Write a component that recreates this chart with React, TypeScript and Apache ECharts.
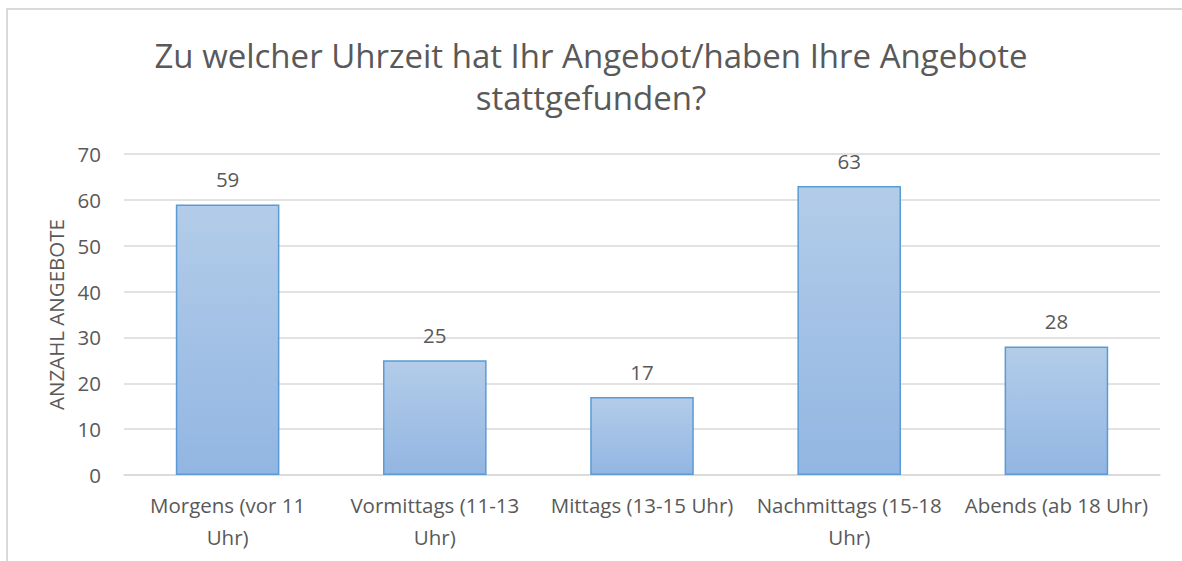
import React, { useEffect, useRef } from "react";
import * as echarts from "echarts";

const titleText = "Zu welcher Uhrzeit hat Ihr Angebot/haben Ihre Angebote\nstattgefunden?";
const categories = [
  "Morgens (vor 11\nUhr)",
  "Vormittags (11-13\nUhr)",
  "Mittags (13-15 Uhr)",
  "Nachmittags (15-18\nUhr)",
  "Abends (ab 18 Uhr)",
];
const values = [59, 25, 17, 63, 28];
const yAxisName = "ANZAHL ANGEBOTE";
const FONT = "Open Sans";

export default function App() {
  const ref = useRef<HTMLDivElement>(null);
  useEffect(() => {
    if (!ref.current) return;
    const chart = echarts.init(ref.current, null, { renderer: "svg" });
    chart.setOption({
      animation: false,
      backgroundColor: "#ffffff",
      textStyle: { fontFamily: FONT },
      title: {
        text: titleText,
        left: "center",
        top: 34,
        padding: 0,
        textStyle: {
          fontFamily: FONT,
          fontSize: 33,
          fontWeight: "normal",
          color: "#595959",
          lineHeight: 42,
        },
      },
      graphic: [
        {
          type: "rect",
          shape: { x: 7, y: 9, width: 1200, height: 600 },
          style: { fill: "none", stroke: "#d9d9d9", lineWidth: 2 },
          z: -10,
          silent: true,
        },
      ],
      grid: { left: 124, right: 22, top: 154, bottom: 86 },
      xAxis: {
        type: "category",
        data: categories,
        axisLine: { lineStyle: { color: "#d9d9d9", width: 1.5 } },
        axisTick: { show: false },
        axisLabel: {
          color: "#595959",
          fontSize: 20.5,
          lineHeight: 32,
          margin: 14,
          interval: 0,
          fontFamily: FONT,
        },
      },
      yAxis: {
        type: "value",
        min: 0,
        max: 70,
        interval: 10,
        name: yAxisName,
        nameLocation: "middle",
        nameGap: 56,
        nameRotate: 90,
        nameTextStyle: { color: "#595959", fontSize: 20.5, fontFamily: FONT },
        axisLine: { show: false },
        axisTick: { show: false },
        splitLine: { lineStyle: { color: "#d9d9d9", width: 1.5 } },
        axisLabel: { color: "#595959", fontSize: 20.5, margin: 23, fontFamily: FONT },
      },
      series: [
        {
          type: "bar",
          data: values,
          barWidth: "50%",
          itemStyle: {
            color: new echarts.graphic.LinearGradient(0, 0, 0, 1, [
              { offset: 0, color: "#b3cce9" },
              { offset: 1, color: "#92b6e2" },
            ]),
            borderColor: "#5b9bd5",
            borderWidth: 1.5,
          },
          label: {
            show: true,
            position: "top",
            distance: 15,
            color: "#595959",
            fontSize: 20.5,
            fontFamily: FONT,
          },
        },
      ],
    });
    return () => chart.dispose();
  }, []);
  return (
    <div
      ref={ref}
      style={{ position: "absolute", left: 0, top: 0, width: 1182, height: 561 }}
    />
  );
}
